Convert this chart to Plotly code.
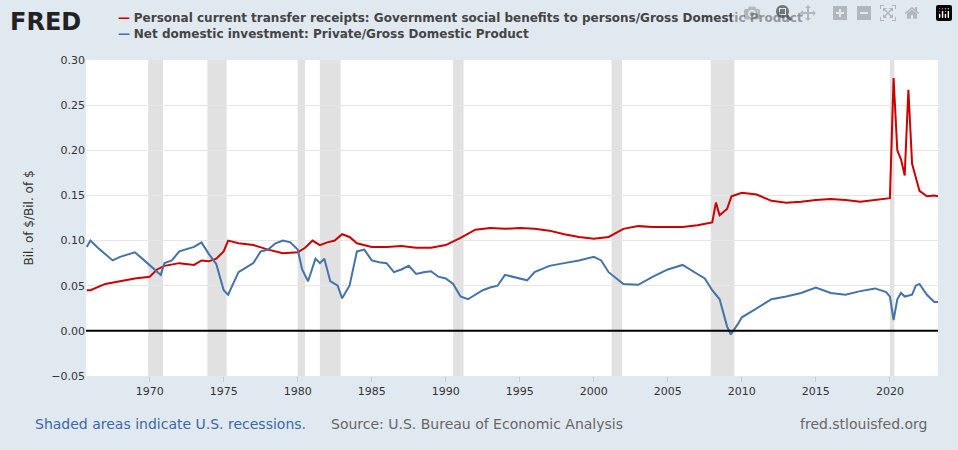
import plotly.graph_objects as go

red_t = [1965.75, 1966, 1967, 1968, 1969, 1970, 1970.5, 1971, 1972, 1973, 1973.5, 1974, 1974.5, 1975, 1975.3, 1976, 1977, 1978, 1979, 1980, 1980.5, 1981, 1981.5, 1982, 1982.5, 1983, 1983.5, 1984, 1985, 1986, 1987, 1988, 1989, 1990, 1991, 1992, 1993, 1994, 1995, 1996, 1997, 1998, 1999, 2000, 2001, 2002, 2003, 2004, 2005, 2006, 2007, 2008, 2008.25, 2008.5, 2009, 2009.3, 2010, 2011, 2012, 2013, 2014, 2015, 2016, 2017, 2018, 2019, 2020.0, 2020.25, 2020.5, 2020.75, 2021.0, 2021.25, 2021.5, 2022, 2022.5, 2023, 2023.25]
red_v = [0.045, 0.045, 0.052, 0.055, 0.058, 0.06, 0.068, 0.072, 0.075, 0.073, 0.078, 0.077, 0.08, 0.088, 0.1, 0.097, 0.095, 0.09, 0.086, 0.087, 0.092, 0.1, 0.095, 0.098, 0.1, 0.107, 0.104, 0.097, 0.093, 0.093, 0.094, 0.092, 0.092, 0.095, 0.103, 0.112, 0.114, 0.113, 0.114, 0.113, 0.111, 0.107, 0.104, 0.102, 0.104, 0.113, 0.116, 0.115, 0.115, 0.115, 0.117, 0.12, 0.142, 0.128, 0.135, 0.149, 0.153, 0.151, 0.144, 0.142, 0.143, 0.145, 0.146, 0.145, 0.143, 0.145, 0.147, 0.28, 0.2, 0.19, 0.172, 0.267, 0.185, 0.155, 0.149, 0.15, 0.149]

blue_t = [1965.75, 1966, 1966.5, 1967, 1967.5, 1968, 1969, 1969.5, 1970, 1970.75, 1971, 1971.5, 1972, 1973, 1973.5, 1974, 1974.5, 1975, 1975.3, 1975.6, 1976, 1976.5, 1977, 1977.5, 1978, 1978.5, 1979, 1979.5, 1980, 1980.3, 1980.7, 1981.2, 1981.5, 1981.8, 1982.2, 1982.7, 1983, 1983.5, 1984, 1984.5, 1985, 1985.5, 1986, 1986.5, 1987, 1987.5, 1988, 1988.5, 1989, 1989.5, 1990, 1990.5, 1991, 1991.5, 1992, 1992.5, 1993, 1993.5, 1994, 1994.5, 1995, 1995.5, 1996, 1997, 1998, 1999, 2000, 2000.5, 2001, 2001.5, 2002, 2003, 2004, 2005, 2006, 2007, 2007.5, 2008, 2008.5, 2009, 2009.25, 2009.75, 2010, 2010.5, 2011, 2011.5, 2012, 2013, 2014, 2015, 2016, 2017, 2018, 2019, 2019.75, 2020.0, 2020.25, 2020.5, 2020.75, 2021, 2021.5, 2021.75, 2022, 2022.5, 2023, 2023.25]
blue_v = [0.093, 0.1, 0.092, 0.085, 0.078, 0.082, 0.087, 0.08, 0.073, 0.062, 0.075, 0.078, 0.088, 0.093, 0.098, 0.085, 0.074, 0.045, 0.04, 0.05, 0.065, 0.07, 0.075, 0.088, 0.09, 0.097, 0.1, 0.098, 0.09, 0.068, 0.055, 0.08, 0.075, 0.08, 0.055, 0.05, 0.036, 0.05, 0.088, 0.09, 0.078, 0.076, 0.075, 0.065, 0.068, 0.072, 0.063, 0.065, 0.066, 0.06, 0.058, 0.052, 0.038, 0.035, 0.04, 0.045, 0.048, 0.05, 0.062, 0.06, 0.058, 0.056, 0.065, 0.072, 0.075, 0.078, 0.082, 0.078, 0.065, 0.058, 0.052, 0.051, 0.06, 0.068, 0.073, 0.063, 0.058, 0.045, 0.035, 0.005, -0.004, 0.008, 0.015, 0.02, 0.025, 0.03, 0.035, 0.038, 0.042, 0.048, 0.042, 0.04, 0.044, 0.047, 0.043, 0.038, 0.012, 0.035, 0.042, 0.038, 0.04, 0.05, 0.052, 0.04, 0.032, 0.032]

recessions = [(1969.9, 1970.9), (1973.9, 1975.2), (1980.0, 1980.5), (1981.5, 1982.9),
              (1990.5, 1991.2), (2001.2, 2001.9), (2007.9, 2009.5), (2020.0, 2020.3)]

red_name = "Personal current transfer receipts: Government social benefits to persons/Gross Domestic Product"
blue_name = "Net domestic investment: Private/Gross Domestic Product"

fig = go.Figure()
fig.add_trace(go.Scatter(x=red_t, y=red_v, mode="lines", line=dict(color="#cc0000", width=2), showlegend=False))
fig.add_trace(go.Scatter(x=blue_t, y=blue_v, mode="lines", line=dict(color="#4572a7", width=2), showlegend=False))

for a, b in recessions:
    fig.add_vrect(x0=a, x1=b, fillcolor="#e1e1e1", line_width=0, layer="below")
fig.add_hline(y=0, line=dict(color="black", width=2))

font = "DejaVu Sans"
fig.add_annotation(xref="paper", yref="paper", x=-0.092, y=1.17, xanchor="left", yanchor="top",
                   text="<b>FRED</b>", showarrow=False, font=dict(family=font, size=24, color="#222"))
fig.add_annotation(xref="paper", yref="paper", x=0.035, y=1.16, xanchor="left", yanchor="top",
                   text="<span style='color:#cc0000'><b>—</b></span> <b>" + red_name + "</b><br>"
                        "<span style='color:#4572a7'><b>—</b></span> <b>" + blue_name + "</b>",
                   align="left", showarrow=False, font=dict(family=font, size=12, color="#444"))
fig.add_annotation(xref="paper", yref="paper", x=-0.062, y=-0.152, xanchor="left", yanchor="middle",
                   text="Shaded areas indicate U.S. recessions.", showarrow=False,
                   font=dict(family=font, size=14, color="#3b68a8"))
fig.add_annotation(xref="paper", yref="paper", x=0.285, y=-0.152, xanchor="left", yanchor="middle",
                   text="Source: U.S. Bureau of Economic Analysis", showarrow=False,
                   font=dict(family=font, size=14, color="#666"))
fig.add_annotation(xref="paper", yref="paper", x=0.99, y=-0.152, xanchor="right", yanchor="middle",
                   text="fred.stlouisfed.org", showarrow=False,
                   font=dict(family=font, size=14, color="#666"))

fig.update_layout(
    width=958, height=450, paper_bgcolor="#e1e9f0", plot_bgcolor="white",
    margin=dict(l=86, r=20, t=60, b=74),
    font=dict(family=font, size=11, color="#333"),
    xaxis=dict(range=[1965.7, 2023.25], tickvals=list(range(1970, 2021, 5)),
               showgrid=False, zeroline=False, ticks="outside", tickcolor="#ccc", ticklen=5),
    yaxis=dict(range=[-0.05, 0.30], dtick=0.05, tickformat=".2f", gridcolor="#e6e6e6",
               zeroline=False, title=dict(text="Bil. of $/Bil. of $", font=dict(size=12))),
)
fig.write_html("out.html", post_script="document.body.style.margin='0';document.body.style.overflow='hidden';")
